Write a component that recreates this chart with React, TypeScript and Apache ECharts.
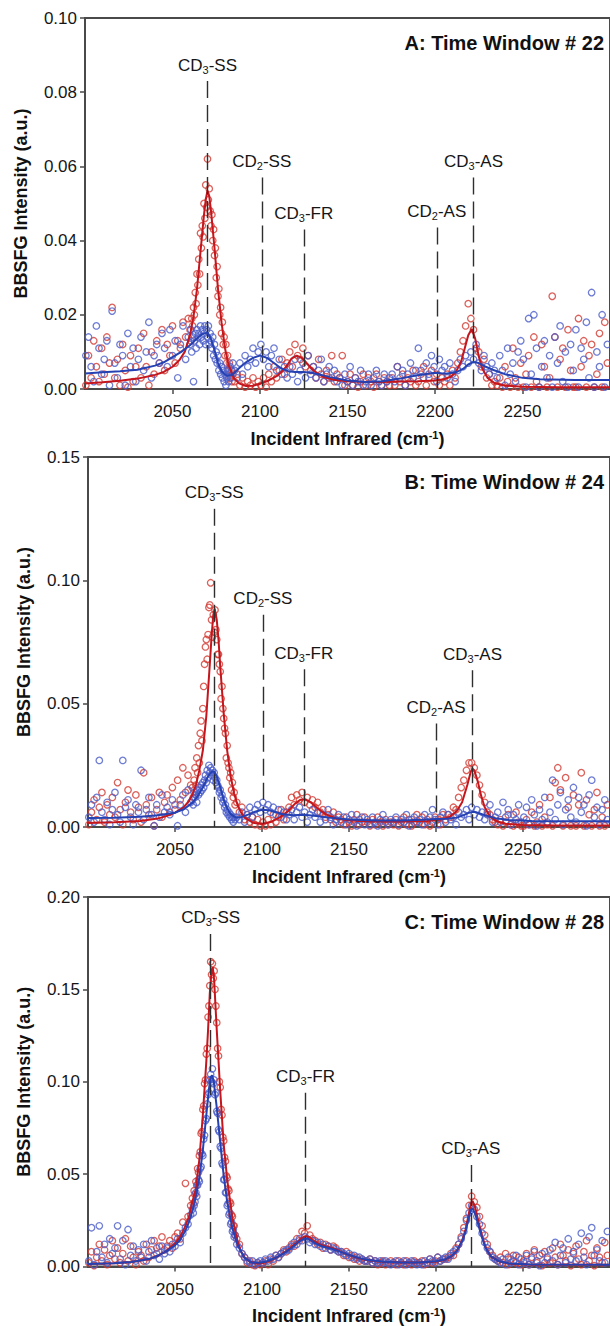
import React, { useEffect, useRef } from 'react';
import * as echarts from 'echarts';

// ---------------- DATA ----------------
// Sampling grid of the spectra (incident IR wavenumber, cm^-1):
// coarse 1.5 cm-1 steps, finer 0.5 cm-1 steps across the CD3-SS band.
const GRID_SEGMENTS = [
  { start: 2000.5, step: 1.5, count: 40 },
  { start: 2060, step: 0.5, count: 50 },
  { start: 2085.5, step: 1.5, count: 143 },
];

// Measured BBSFG intensities, in 10^-3 a.u., one value per grid wavenumber.
const RED_A_PTS = [
  1, 9, 3, 13, 6, 2, 11, 4, 14, 7,
  22, 3, 8, 1, 12, 5, 0.5, 9, 2, 6,
  11, 3, 15, 6, 1, 10, 4, 13, 7, 16,
  5, 12, 9, 17, 7, 13, 11, 18, 14, 19,
  16, 13, 19, 17, 22, 20, 26, 23, 31, 28,
  35, 31, 42, 38, 44, 41, 50, 46, 55, 49,
  62, 51, 54, 48, 44, 47, 40, 43, 36, 38,
  30, 33, 25, 27, 20, 22, 15, 18, 12, 14,
  9, 12, 7, 9, 5, 7, 3, 5, 2, 4,
  2, 4, 1, 3, 0.5, 2, 1, 3, 0.5, 2,
  1, 3, 0.5, 4, 2, 6, 3, 5, 8, 4,
  7, 10, 6, 12, 9, 8, 11, 6, 9, 5,
  6, 3, 8, 4, 2, 5, 3, 9, 2, 4,
  3, 9, 1, 2, 4, 1, 3, 0.5, 2, 4,
  1, 3, 2, 0.5, 4, 2, 1, 3, 2, 1,
  3, 1, 6, 2, 4, 1, 3, 2, 5, 1,
  2, 4, 6, 1, 3, 5, 2, 4, 1, 3,
  2, 4, 1, 5, 3, 7, 10, 13, 17, 23,
  19, 16, 11, 10, 6, 8, 3, 4, 1, 2,
  1, 3, 0.5, 6, 2, 0.5, 11, 3, 0.5, 7,
  0.5, 4, 9, 0.5, 14, 2, 0.5, 12, 6, 0.5,
  3, 25, 14, 0.5, 8, 11, 0.5, 16, 5, 0.5,
  0.5, 19, 6, 13, 0.5, 9, 12, 0.5, 4, 15,
  0.5, 18, 7,
];
const BLUE_A_PTS = [
  9, 14, 6, 2, 17, 11, 4, 8, 13, 1,
  21, 7, 3, 12, 9, 1, 15, 6, 11, 2,
  8, 14, 5, 10, 18, 3, 9, 12, 7, 15,
  11, 6, 16, 9, 13, 3, 12, 17, 8, 14,
  12, 16, 10, 14, 2, 13, 15, 11, 16, 14,
  15, 12, 17, 14, 16, 13, 15, 17, 12, 16,
  14, 17, 12, 15, 13, 11, 14, 9, 12, 8,
  10, 7, 9, 5, 7, 4, 6, 3, 5, 2,
  4, 1, 3, 5, 2, 4, 6, 3, 5, 7,
  5, 3, 7, 4, 9, 6, 8, 11, 7, 10,
  12, 8, 10, 6, 9, 11, 5, 8, 4, 6,
  3, 6, 4, 8, 2, 5, 7, 3, 9, 4,
  6, 3, 5, 8, 2, 4, 6, 3, 5, 2,
  3, 1, 4, 2, 6, 1, 3, 2, 5, 1,
  2, 4, 1, 3, 5, 2, 1, 4, 2, 3,
  4, 2, 6, 3, 5, 1, 4, 7, 3, 5,
  11, 5, 3, 7, 4, 9, 6, 2, 8, 5,
  6, 3, 7, 4, 2, 5, 8, 6, 9, 7,
  10, 8, 12, 7, 5, 9, 6, 4, 7, 5,
  3, 9, 5, 1, 11, 4, 7, 2, 10, 13,
  8, 0.5, 19, 4, 20, 11, 0.5, 6, 13, 3,
  9, 0.5, 14, 7, 17, 2, 10, 0.5, 12, 5,
  16, 0.5, 11, 8, 18, 3, 26, 0.5, 10, 6,
  20, 0.5, 12,
];
const RED_B_PTS = [
  1, 6, 11, 3, 8, 14, 2, 9, 5, 12,
  4, 18, 7, 1, 10, 15, 6, 3, 13, 8,
  2, 22, 9, 5, 12, 0.5, 7, 14, 4, 10,
  13, 6, 16, 9, 19, 11, 24, 14, 21, 17,
  16, 12, 19, 24, 17, 28, 22, 33, 26, 38,
  43, 35, 48, 57, 66, 73, 76, 68, 78, 89,
  90, 99, 84, 77, 86, 79, 88, 80, 76, 70,
  70, 66, 63, 52, 57, 48, 44, 40, 38, 28,
  33, 26, 24, 20, 22, 15, 18, 12, 14, 9,
  10, 6, 8, 3, 5, 2, 4, 1, 3, 0.5,
  2, 0.5, 3, 1, 5, 2, 4, 7, 3, 6,
  8, 12, 9, 13, 11, 14, 10, 12, 9, 11,
  8, 10, 6, 7, 4, 5, 3, 6, 2, 4,
  3, 1, 4, 2, 0.5, 3, 5, 1, 2, 4,
  2, 0.5, 3, 1, 4, 2, 0.5, 3, 1, 2,
  1, 3, 0.5, 2, 4, 1, 3, 0.5, 2, 5,
  2, 4, 1, 3, 0.5, 2, 4, 3, 1, 5,
  3, 5, 4, 8, 7, 12, 16, 19, 23, 26,
  26, 24, 21, 17, 13, 10, 6, 5, 3, 2,
  1, 3, 0.5, 2, 5, 1, 0.5, 6, 2, 0.5,
  0.5, 3, 1, 6, 0.5, 2, 9, 0.5, 4, 1,
  12, 0.5, 18, 24, 15, 0.5, 20, 8, 0.5, 13,
  0.5, 9, 22, 0.5, 11, 5, 0.5, 7, 14, 0.5,
  4, 0.5, 9,
];
const BLUE_B_PTS = [
  4, 9, 2, 12, 27, 6, 3, 10, 1, 7,
  14, 5, 2, 27, 8, 11, 4, 1, 9, 6,
  23, 3, 7, 12, 5, 0.5, 9, 4, 13, 6,
  8, 5, 11, 7, 0.5, 9, 13, 6, 15, 10,
  11, 9, 14, 12, 13, 10, 15, 13, 16, 14,
  17, 15, 18, 16, 19, 21, 18, 23, 20, 25,
  22, 24, 21, 23, 19, 22, 20, 18, 19, 17,
  16, 14, 15, 12, 13, 10, 11, 8, 9, 6,
  7, 5, 6, 4, 5, 3, 4, 2, 4, 3,
  4, 3, 6, 2, 5, 8, 4, 7, 9, 6,
  10, 7, 9, 6, 8, 5, 7, 4, 6, 3,
  5, 7, 3, 6, 8, 4, 6, 2, 5, 7,
  4, 6, 2, 5, 3, 7, 4, 1, 3, 5,
  2, 4, 1, 3, 5, 2, 0.5, 3, 4, 1,
  3, 1, 4, 2, 0.5, 3, 5, 2, 1, 3,
  2, 4, 1, 3, 2, 5, 0.5, 3, 4, 2,
  3, 1, 5, 2, 4, 7, 3, 1, 4, 6,
  2, 5, 3, 4, 1, 6, 4, 5, 7, 3,
  8, 5, 7, 4, 6, 3, 5, 9, 2, 4,
  6, 2, 10, 4, 7, 1, 5, 3, 9, 2,
  4, 8, 1, 11, 5, 0.5, 7, 3, 12, 2,
  6, 19, 3, 9, 14, 1, 7, 11, 4, 16,
  2, 12, 6, 9, 0.5, 13, 19, 4, 8, 1,
  7, 11, 3,
];
const RED_C_PTS = [
  2, 8, 0.5, 5, 12, 3, 9, 1, 6, 14,
  4, 10, 2, 7, 15, 3, 11, 5, 1, 8,
  6, 3, 12, 5, 9, 14, 7, 11, 16, 9,
  11, 14, 10, 16, 18, 15, 24, 45, 27, 33,
  37, 34, 41, 39, 46, 44, 53, 51, 60, 62,
  72, 73, 85, 87, 99, 101, 115, 118, 135, 141,
  152, 165, 158, 164, 156, 160, 150, 141, 132, 118,
  114, 100, 97, 85, 82, 70, 68, 59, 57, 49,
  48, 42, 41, 35, 34, 28, 27, 22, 22, 17,
  15, 12, 7, 5, 2, 3, 1, 0.5, 2, 1,
  2, 3, 1, 4, 3, 6, 5, 7, 9, 8,
  10, 12, 11, 15, 14, 19, 18, 22, 17, 15,
  14, 12, 13, 10, 12, 11, 9, 11, 10, 8,
  8, 6, 8, 5, 6, 4, 5, 3, 4, 3,
  3, 4, 2, 3, 1, 2, 3, 1, 2, 3,
  2, 1, 3, 2, 1, 3, 2, 1, 3, 2,
  2, 3, 1, 2, 4, 2, 3, 5, 3, 4,
  4, 5, 7, 6, 10, 12, 16, 21, 26, 33,
  38, 35, 32, 27, 22, 17, 12, 8, 6, 4,
  3, 5, 2, 7, 1, 4, 6, 2, 5, 1,
  3, 7, 1, 5, 9, 2, 6, 0.5, 8, 4,
  2, 10, 5, 1, 12, 6, 3, 9, 0.5, 7,
  11, 4, 1, 8, 14, 3, 6, 0.5, 10, 5,
  2, 13, 6,
];
const BLUE_C_PTS = [
  3, 21, 1, 8, 22, 5, 12, 2, 15, 7,
  10, 22, 4, 14, 1, 20, 6, 11, 3, 9,
  5, 12, 3, 8, 14, 6, 10, 4, 11, 7,
  10, 8, 12, 11, 15, 13, 18, 21, 23, 28,
  31, 29, 33, 35, 40, 38, 44, 47, 46, 53,
  54, 61, 60, 69, 71, 79, 80, 88, 93, 94,
  101, 104, 100, 107, 99, 101, 93, 94, 84, 83,
  74, 73, 65, 64, 56, 55, 47, 47, 40, 40,
  33, 34, 28, 29, 23, 24, 19, 20, 16, 17,
  12, 10, 7, 5, 3, 2, 3, 1, 2, 3,
  2, 4, 3, 5, 4, 6, 5, 7, 8, 9,
  9, 11, 13, 12, 15, 14, 16, 15, 13, 14,
  12, 13, 11, 12, 10, 11, 9, 10, 9, 8,
  8, 7, 6, 7, 5, 6, 4, 5, 4, 3,
  3, 4, 2, 3, 2, 3, 2, 3, 2, 1,
  2, 3, 1, 2, 3, 1, 2, 3, 2, 1,
  2, 1, 3, 2, 4, 3, 2, 5, 3, 4,
  5, 4, 6, 8, 9, 12, 15, 19, 25, 29,
  33, 31, 27, 23, 18, 13, 10, 8, 5, 4,
  3, 2, 4, 1, 5, 2, 3, 6, 1, 4,
  2, 6, 1, 4, 8, 3, 0.5, 7, 2, 5,
  9, 3, 13, 1, 6, 10, 2, 15, 4, 8,
  3, 12, 18, 5, 1, 16, 21, 6, 9, 3,
  14, 2, 19,
];

// Fitted spectra: [wavenumber, intensity in 10^-3 a.u.]
const RED_FIT_A = [
  [2000, 1.5], [2010, 1.8], [2020, 2.2], [2030, 2.8], [2040, 3.8], [2045, 4.6], [2050, 6.0], [2054, 7.8],
  [2057, 10], [2060, 14.5], [2062, 19.5], [2064, 27], [2066, 37], [2068, 47], [2069, 51], [2070, 53.5],
  [2071, 52], [2072, 48], [2074, 38], [2076, 27], [2078, 18], [2080, 11], [2082, 6.5], [2085, 3],
  [2088, 1.5], [2092, 0.8], [2096, 0.9], [2100, 1.4], [2105, 2.3], [2110, 3.6], [2115, 6.0], [2118, 8.2],
  [2121, 9.0], [2124, 8.3], [2127, 6.8], [2131, 4.8], [2136, 3.3], [2142, 2.5], [2150, 2.1], [2160, 1.9],
  [2170, 1.9], [2180, 2.0], [2190, 2.1], [2200, 2.3], [2205, 2.6], [2209, 3.3], [2212, 4.6], [2215, 7.5],
  [2217, 11], [2219, 14.5], [2221, 16.2], [2223, 13.5], [2225, 8.8], [2227, 5.5], [2230, 3.0], [2234, 1.6],
  [2240, 0.9], [2250, 0.6], [2270, 0.5], [2300, 0.5],
];
const BLUE_FIT_A = [
  [2000, 4.2], [2010, 4.5], [2020, 4.8], [2030, 5.2], [2040, 6.3], [2045, 7.2], [2050, 8.6], [2055, 10],
  [2060, 11.8], [2064, 13.6], [2067, 14.8], [2070, 15.2], [2072, 13.5], [2074, 10.5], [2076, 7], [2078, 4.8],
  [2081, 3.6], [2084, 3.8], [2088, 5.6], [2092, 7.2], [2096, 8.4], [2100, 9.0], [2104, 8.4], [2108, 7.0],
  [2112, 5.6], [2116, 4.8], [2120, 4.6], [2125, 4.6], [2130, 4.3], [2135, 3.8], [2140, 3.2], [2150, 2.3],
  [2160, 1.9], [2170, 2.1], [2180, 2.8], [2190, 3.7], [2200, 4.4], [2206, 4.1], [2212, 4.5], [2216, 5.4],
  [2219, 6.6], [2222, 7.3], [2225, 7.0], [2228, 6.2], [2233, 5.2], [2240, 4.0], [2250, 3.0], [2260, 2.6],
  [2280, 2.4], [2300, 2.4],
];
const RED_FIT_B = [
  [2000, 1.6], [2015, 1.9], [2030, 2.4], [2040, 3.4], [2045, 4.4], [2050, 5.8], [2055, 8.0], [2058, 10.5],
  [2060, 13.2], [2062, 17], [2064, 23], [2066, 31], [2068, 45], [2070, 66], [2071, 77], [2072, 86],
  [2072.8, 88.5], [2074, 84], [2075, 76], [2076, 65], [2078, 46], [2080, 31], [2082, 20.5], [2084, 13.5],
  [2086, 8.8], [2088, 5.8], [2090, 3.8], [2095, 1.7], [2100, 1.2], [2105, 2.0], [2110, 3.8], [2115, 6.5],
  [2119, 9.5], [2122, 11], [2125, 11.2], [2128, 10], [2132, 7.5], [2137, 5.0], [2143, 3.4], [2150, 2.6],
  [2165, 2.2], [2180, 2.2], [2195, 2.4], [2203, 3.0], [2208, 4.2], [2212, 6.5], [2215, 10], [2218, 17],
  [2220, 22.5], [2221, 23.6], [2222, 23], [2224, 18.5], [2226, 12.5], [2228, 8], [2231, 4.3], [2235, 2.3],
  [2240, 1.3], [2250, 0.8], [2270, 0.6], [2300, 0.6],
];
const BLUE_FIT_B = [
  [2000, 3.6], [2015, 3.8], [2030, 4.2], [2040, 4.8], [2050, 5.8], [2055, 7.2], [2060, 9.8], [2063, 12.5],
  [2066, 16], [2069, 20.5], [2071, 22.3], [2072.5, 22.6], [2074, 20.5], [2076, 16], [2078, 11], [2080, 7.5],
  [2082, 5.2], [2085, 3.8], [2088, 4.0], [2092, 5.0], [2096, 6.2], [2100, 7.0], [2104, 6.8], [2108, 6.0],
  [2112, 5.2], [2118, 4.8], [2124, 5.0], [2130, 4.6], [2138, 3.8], [2150, 3.0], [2165, 2.6], [2180, 2.6],
  [2192, 2.9], [2200, 3.2], [2206, 3.3], [2212, 3.8], [2216, 4.8], [2219, 5.8], [2221.5, 6.2], [2224, 5.8],
  [2228, 4.8], [2234, 3.6], [2242, 2.8], [2255, 2.4], [2275, 2.3], [2300, 2.3],
];
const RED_FIT_C = [
  [2000, 1.3], [2015, 1.8], [2025, 2.4], [2035, 4], [2040, 5.8], [2045, 8.3], [2050, 12.5], [2053, 16],
  [2056, 22], [2058, 27], [2060, 35], [2062, 42], [2063, 50], [2064, 58], [2066, 82], [2068, 111],
  [2069, 128], [2070, 148], [2071, 160], [2071.7, 162], [2072.5, 155], [2074, 128], [2076, 95], [2078, 66],
  [2080, 47], [2083, 26], [2086, 13.5], [2088, 8], [2090, 5], [2093, 2.6], [2097, 1.6], [2100, 1.7],
  [2105, 3.2], [2110, 5.8], [2115, 9], [2120, 13], [2123, 15.5], [2125, 16.4], [2127, 16], [2130, 13.8],
  [2134, 11.6], [2138, 10.6], [2142, 9.5], [2146, 7.8], [2150, 6.2], [2155, 4.6], [2160, 3.5], [2170, 2.5],
  [2180, 2.1], [2190, 2.1], [2200, 2.6], [2205, 3.6], [2209, 5.5], [2212, 8.5], [2215, 14], [2217, 20],
  [2218.5, 27], [2220, 34], [2221, 35.5], [2222.5, 32], [2224.5, 24], [2226.5, 16.5], [2228.5, 10.5],
  [2231.5, 5.6], [2236, 2.8], [2242, 1.5], [2255, 1.0], [2300, 0.9],
];
const BLUE_FIT_C = [
  [2000, 1.3], [2015, 1.8], [2025, 2.4], [2035, 4], [2040, 5.8], [2045, 8.2], [2050, 11.5], [2053, 14.5],
  [2056, 19.5], [2058, 24], [2060, 30], [2062, 38], [2064, 48], [2066, 63], [2068, 82], [2069.5, 96],
  [2070.5, 102.5], [2071.3, 103.5], [2072.3, 100], [2074, 86], [2076, 67], [2078, 49], [2080, 35],
  [2083, 20.5], [2086, 11.5], [2090, 4.5], [2094, 2.2], [2098, 2.0], [2102, 2.6], [2107, 4.3], [2112, 6.8],
  [2117, 10], [2121, 13.3], [2124, 15], [2126, 15.2], [2128, 14.2], [2131, 12.4], [2135, 10.8], [2140, 9.6],
  [2145, 8.0], [2150, 6.3], [2155, 4.8], [2160, 3.6], [2170, 2.6], [2180, 2.2], [2190, 2.2], [2200, 2.8],
  [2205, 3.8], [2209, 5.8], [2212, 8.6], [2215, 13.5], [2217, 19], [2218.5, 25], [2220, 30.5], [2221, 31.5],
  [2222.5, 28.5], [2224.5, 22], [2226.5, 15.5], [2228.5, 10], [2231.5, 5.5], [2236, 2.9], [2242, 1.6],
  [2255, 1.1], [2300, 1.0],
];

// Band assignments: position (cm-1) and top of the dashed guide (a.u.)
const MARKERS_A = [
  { label: 'CD3-SS', x: 2070, top: 0.083 },
  { label: 'CD2-SS', x: 2101, top: 0.057 },
  { label: 'CD3-FR', x: 2125, top: 0.043 },
  { label: 'CD2-AS', x: 2201, top: 0.0435 },
  { label: 'CD3-AS', x: 2222, top: 0.057 },
];
const MARKERS_B = [
  { label: 'CD3-SS', x: 2072.5, top: 0.129 },
  { label: 'CD2-SS', x: 2100.5, top: 0.086 },
  { label: 'CD3-FR', x: 2124, top: 0.064 },
  { label: 'CD2-AS', x: 2200, top: 0.042 },
  { label: 'CD3-AS', x: 2221, top: 0.0635 },
];
const MARKERS_C = [
  { label: 'CD3-SS', x: 2070.5, top: 0.18 },
  { label: 'CD3-FR', x: 2125, top: 0.094 },
  { label: 'CD3-AS', x: 2220, top: 0.055 },
];

const TITLES = ['A: Time Window # 22', 'B: Time Window # 24', 'C: Time Window # 28'];
const Y_MAX = [0.1, 0.15, 0.2];
const Y_INTERVAL = [0.02, 0.05, 0.05];
const X_MIN = 2000;
const X_MAX = 2300;
const X_INTERVAL = 50;
const X_NAME = 'Incident Infrared (cm{sup|-1})';
const Y_NAME = 'BBSFG Intensity (a.u.)';

// ---------------- STYLE / LAYOUT ----------------
const FONT = '"Liberation Sans", Arial, Helvetica, sans-serif';
const AXIS_COLOR = '#4a4a4a';
const TEXT_COLOR = '#161616';
const RED_PT = '#d23a32';
const BLUE_PT = '#4a5cc8';
const RED_LINE = '#c4161c';
const BLUE_LINE = '#2541b2';
const LAYOUT = [
  { left: 85, top: 18, width: 531, height: 371 },
  { left: 88, top: 457, width: 531, height: 370 },
  { left: 88, top: 897, width: 531, height: 371 },
];

const WAVENUMBERS: number[] = GRID_SEGMENTS.flatMap((s) =>
  Array.from({ length: s.count }, (_, k) => +(s.start + k * s.step).toFixed(2))
);

const toPoints = (ys: number[]) =>
  ys.slice(0, WAVENUMBERS.length).map((y, i) => [WAVENUMBERS[i], y / 1000]);
const toFit = (pairs: number[][]) => pairs.map(([x, y]) => [x, y / 1000]);

const PANELS = [
  { red: RED_A_PTS, blue: BLUE_A_PTS, redFit: RED_FIT_A, blueFit: BLUE_FIT_A, markers: MARKERS_A },
  { red: RED_B_PTS, blue: BLUE_B_PTS, redFit: RED_FIT_B, blueFit: BLUE_FIT_B, markers: MARKERS_B },
  { red: RED_C_PTS, blue: BLUE_C_PTS, redFit: RED_FIT_C, blueFit: BLUE_FIT_C, markers: MARKERS_C },
];

function buildOption() {
  const series: any[] = [];
  PANELS.forEach((p, i) => {
    const common = { xAxisIndex: i, yAxisIndex: i, silent: true, emphasis: { disabled: true } };
    series.push({
      ...common,
      type: 'scatter',
      data: toPoints(p.red),
      symbol: 'circle',
      symbolSize: 6.5,
      itemStyle: { color: 'rgba(0,0,0,0)', borderColor: RED_PT, borderWidth: 1.3 },
      z: 2,
    });
    series.push({
      ...common,
      type: 'scatter',
      data: toPoints(p.blue),
      symbol: 'circle',
      symbolSize: 6.5,
      itemStyle: { color: 'rgba(0,0,0,0)', borderColor: BLUE_PT, borderWidth: 1.3 },
      z: 3,
    });
    series.push({
      ...common,
      type: 'line',
      data: toFit(p.redFit),
      showSymbol: false,
      symbol: 'none',
      lineStyle: { color: RED_LINE, width: 2 },
      z: 4,
    });
    series.push({
      ...common,
      type: 'line',
      data: toFit(p.blueFit),
      showSymbol: false,
      symbol: 'none',
      lineStyle: { color: BLUE_LINE, width: 2 },
      z: 5,
      markLine: {
        silent: true,
        symbol: ['none', 'none'],
        animation: false,
        emphasis: { disabled: true },
        lineStyle: { color: '#2e2e2e', width: 1.4, type: [17, 7] },
        label: {
          show: true,
          position: 'start',
          distance: 6,
          fontSize: 17,
          color: TEXT_COLOR,
          fontFamily: FONT,
          formatter: (prm: any) => String(prm.name).replace(/^CD(\d)/, 'CD{s|$1}'),
          rich: {
            s: { fontSize: 11, fontFamily: FONT, color: TEXT_COLOR, padding: [9, 0, 0, 0] },
          },
        },
        data: p.markers.map((m) => [
          { name: m.label, coord: [m.x, m.top] },
          { coord: [m.x, 0] },
        ]),
      },
    });
  });

  return {
    animation: false,
    backgroundColor: '#ffffff',
    textStyle: { fontFamily: FONT },
    title: TITLES.map((t, i) => ({
      text: t,
      right: 6,
      top: LAYOUT[i].top + 15,
      padding: 0,
      textStyle: { fontSize: 20, fontWeight: 'bold', color: '#111', fontFamily: FONT },
    })),
    grid: LAYOUT.map((l) => ({
      left: l.left,
      top: l.top,
      width: l.width,
      height: l.height,
      show: true,
      borderColor: AXIS_COLOR,
      borderWidth: 2,
      backgroundColor: 'rgba(0,0,0,0)',
    })),
    xAxis: LAYOUT.map((_, i) => ({
      type: 'value',
      gridIndex: i,
      min: X_MIN,
      max: X_MAX,
      interval: X_INTERVAL,
      name: X_NAME,
      nameLocation: 'middle',
      nameGap: 40,
      nameTextStyle: {
        fontSize: 18,
        fontWeight: 'bold',
        color: '#111',
        fontFamily: FONT,
        rich: {
          sup: { fontSize: 11, fontWeight: 'bold', color: '#111', fontFamily: FONT, padding: [0, 0, 8, 0] },
        },
      },
      axisLine: { show: true, onZero: false, lineStyle: { color: AXIS_COLOR, width: 2 } },
      axisTick: { show: true, inside: false, length: 5, lineStyle: { color: AXIS_COLOR, width: 1.5 } },
      axisLabel: {
        fontSize: 17,
        color: TEXT_COLOR,
        margin: 14,
        fontFamily: FONT,
        showMinLabel: false,
        showMaxLabel: false,
        formatter: (v: number) => String(Math.round(v)),
      },
      splitLine: { show: false },
    })),
    yAxis: LAYOUT.map((_, i) => ({
      type: 'value',
      gridIndex: i,
      min: 0,
      max: Y_MAX[i],
      interval: Y_INTERVAL[i],
      name: Y_NAME,
      nameLocation: 'middle',
      nameGap: 55,
      nameTextStyle: { fontSize: 18, fontWeight: 'bold', color: '#111', fontFamily: FONT },
      axisLine: { show: true, onZero: false, lineStyle: { color: AXIS_COLOR, width: 2 } },
      axisTick: { show: true, inside: false, length: 5, lineStyle: { color: AXIS_COLOR, width: 1.5 } },
      axisLabel: {
        fontSize: 17,
        color: TEXT_COLOR,
        margin: 8,
        fontFamily: FONT,
        formatter: (v: number) => v.toFixed(2),
      },
      splitLine: { show: false },
    })),
    series,
  };
}

export default function App() {
  const ref = useRef<HTMLDivElement | null>(null);
  useEffect(() => {
    if (!ref.current) return;
    const chart = echarts.init(ref.current, undefined, { renderer: 'svg' });
    chart.setOption(buildOption() as any);
    return () => chart.dispose();
  }, []);
  return (
    <div
      ref={ref}
      style={{ position: 'absolute', left: 0, top: 0, width: 610, height: 1326, background: '#fff' }}
    />
  );
}
